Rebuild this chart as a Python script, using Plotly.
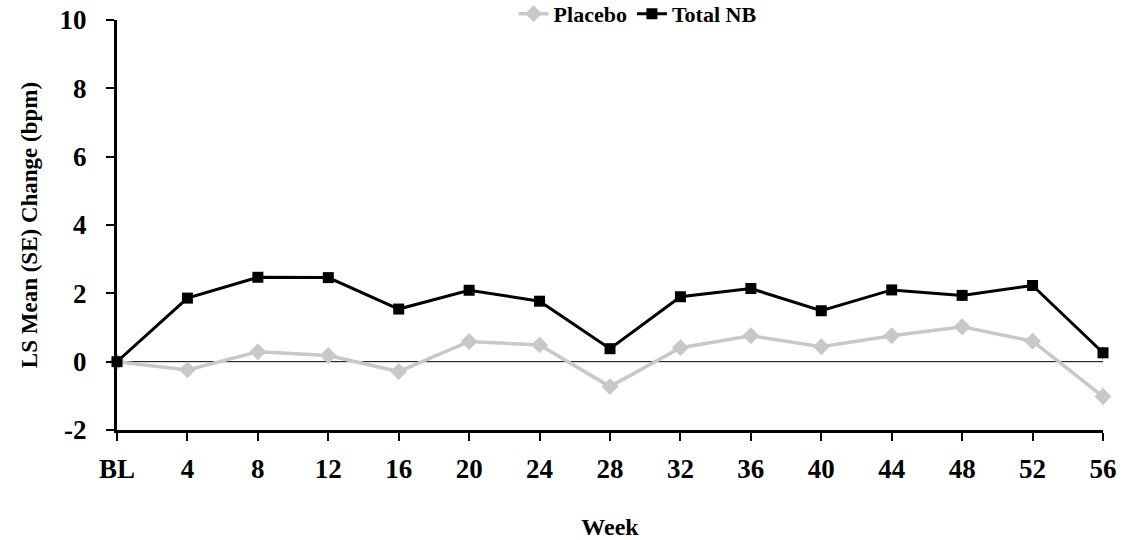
import plotly.graph_objects as go

weeks = [0, 4, 8, 12, 16, 20, 24, 28, 32, 36, 40, 44, 48, 52, 56]
week_labels = ["BL", "4", "8", "12", "16", "20", "24", "28", "32", "36", "40", "44", "48", "52", "56"]

placebo = [0.0, -0.24, 0.29, 0.18, -0.29, 0.59, 0.49, -0.73, 0.41, 0.76, 0.44, 0.76, 1.02, 0.60, -1.02]
placebo_se = [0.0, 0.2, 0.2, 0.2, 0.2, 0.2, 0.2, 0.22, 0.22, 0.22, 0.22, 0.22, 0.23, 0.23, 0.28]
total_nb = [0.0, 1.86, 2.47, 2.46, 1.54, 2.09, 1.77, 0.38, 1.90, 2.14, 1.49, 2.10, 1.94, 2.23, 0.26]
total_nb_se = [0.0, 0.12, 0.12, 0.12, 0.13, 0.13, 0.13, 0.14, 0.14, 0.14, 0.15, 0.15, 0.15, 0.15, 0.18]

y_ticks = [-2, 0, 2, 4, 6, 8, 10]
y_labels = ["-2", "0", "2", "4", "6", "8", "10"]

font_family = "Liberation Serif, Times New Roman, serif"

fig = go.Figure()

fig.add_trace(go.Scatter(
    x=weeks, y=placebo, name="Placebo", mode="lines+markers",
    line=dict(color="#c8c8c8", width=3.5),
    marker=dict(symbol="diamond", size=13, color="#c8c8c8"),
    error_y=dict(type="data", array=placebo_se, color="#c8c8c8", thickness=1.5, width=0),
    cliponaxis=False,
))

fig.add_trace(go.Scatter(
    x=weeks, y=total_nb, name="Total NB", mode="lines+markers",
    line=dict(color="#000000", width=3),
    marker=dict(symbol="square", size=11, color="#000000"),
    error_y=dict(type="data", array=total_nb_se, color="#000000", thickness=1.5, width=0),
    cliponaxis=False,
))

# zero reference line
fig.add_shape(type="line", xref="x", yref="y", x0=0, x1=56, y0=0, y1=0,
              line=dict(color="black", width=1), layer="below")

fig.update_layout(
    width=1127, height=540,
    margin=dict(l=117, r=24, t=20, b=110, autoexpand=False),
    paper_bgcolor="white", plot_bgcolor="white",
    font=dict(family=font_family, color="black"),
    legend=dict(
        orientation="h", x=0.528, xanchor="center", y=1.015, yanchor="middle",
        font=dict(size=22, family=font_family, weight="bold"),
        bgcolor="rgba(0,0,0,0)",
    ),
    showlegend=True,
)

fig.update_xaxes(
    range=[0, 56], tickmode="array", tickvals=weeks, ticktext=week_labels,
    showgrid=False, zeroline=False,
    showline=True, linecolor="black", linewidth=3,
    ticks="outside", ticklen=8, tickwidth=2, tickcolor="black",
    ticklabelstandoff=5,
    tickfont=dict(size=27, family=font_family, weight="bold"),
    title=dict(text="Week", font=dict(size=24, family=font_family, weight="bold"), standoff=50),
)

fig.update_yaxes(
    range=[-2, 10], tickmode="array", tickvals=y_ticks, ticktext=y_labels,
    showgrid=False, zeroline=False,
    showline=True, linecolor="black", linewidth=3,
    ticks="outside", ticklen=8, tickwidth=2, tickcolor="black",
    ticklabelstandoff=14,
    tickfont=dict(size=27, family=font_family, weight="bold"),
    title=dict(text="LS Mean (SE) Change (bpm)", font=dict(size=23, family=font_family, weight="bold"), standoff=16),
)

fig.write_html("out.html")
